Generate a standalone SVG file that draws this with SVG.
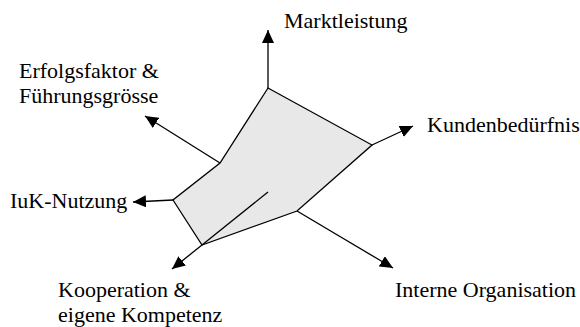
<svg xmlns="http://www.w3.org/2000/svg" width="580" height="327" viewBox="0 0 580 327">
  <style>
    .axis { stroke: #000; stroke-width: 1.3; fill: none; marker-end: url(#arrow); }
    .area { fill: #e8e8e8; stroke: #000; stroke-width: 1.3; stroke-linejoin: miter; }
    .inner { stroke: #000; stroke-width: 1.3; fill: none; }
    .label { font-size: 22px; fill: #000; }
  </style>
  <defs>
    <marker id="arrow" markerUnits="userSpaceOnUse" markerWidth="14" markerHeight="12" refX="13" refY="6" orient="auto">
      <path d="M0,0 L13,6 L0,12 Z" fill="#000"/>
    </marker>
  </defs>

  <!-- profile area -->
  <g id="profile">
    <polygon class="area" points="268,88 372,145 297,211 202,245 173,200 220,163"/>
    <line class="inner" x1="202" y1="245" x2="268" y2="192"/>
  </g>

  <!-- axes -->
  <g id="connectors">
    <line class="axis" x1="268" y1="88" x2="268" y2="30"/>
    <line class="axis" x1="372" y1="145" x2="413" y2="126"/>
    <line class="axis" x1="297" y1="211" x2="393" y2="268"/>
    <line class="axis" x1="202" y1="245" x2="172" y2="269"/>
    <line class="axis" x1="173" y1="200" x2="133" y2="202"/>
    <line class="axis" x1="220" y1="163" x2="145" y2="116"/>
  </g>

  <g font-family="'Liberation Serif', 'DejaVu Serif', serif">
    <g id="marktleistung">
      <text class="label" x="284" y="28">Marktleistung</text>
    </g>
    <g id="kundenbeduerfnis">
      <text class="label" x="427" y="132">Kundenbedürfnis</text>
    </g>
    <g id="interne-organisation">
      <text class="label" x="395" y="297">Interne Organisation</text>
    </g>
    <g id="kooperation">
      <text class="label" x="58" y="297">Kooperation &amp;</text>
      <text class="label" x="58" y="322">eigene Kompetenz</text>
    </g>
    <g id="iuk-nutzung">
      <text class="label" x="10" y="208">IuK-Nutzung</text>
    </g>
    <g id="erfolgsfaktor">
      <text class="label" x="19" y="78">Erfolgsfaktor &amp;</text>
      <text class="label" x="19" y="103">Führungsgrösse</text>
    </g>
  </g>
</svg>
